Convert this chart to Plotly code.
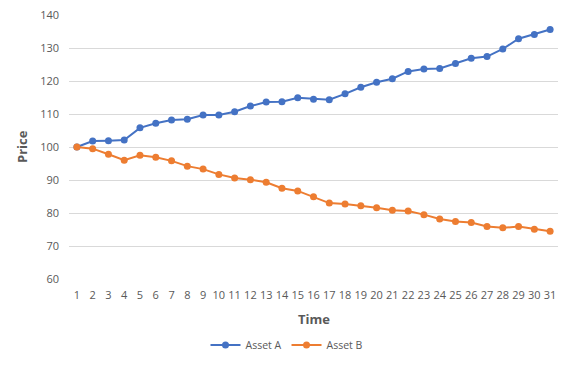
import plotly.graph_objects as go

time = list(range(1, 32))
asset_a = [100, 101.8, 101.9, 102.1, 105.8, 107.2, 108.2, 108.4, 109.7, 109.7,
           110.7, 112.4, 113.6, 113.7, 114.9, 114.5, 114.3, 116.1, 118.1, 119.6,
           120.7, 122.9, 123.6, 123.8, 125.3, 126.9, 127.4, 129.7, 132.8, 134.1, 135.6]
asset_b = [100, 99.5, 97.8, 96.0, 97.5, 96.9, 95.8, 94.2, 93.3, 91.7,
           90.6, 90.1, 89.3, 87.5, 86.7, 84.9, 83.0, 82.7, 82.2, 81.6,
           80.8, 80.6, 79.5, 78.2, 77.4, 77.1, 75.9, 75.5, 75.9, 75.1, 74.5]
y_ticks = [60, 70, 80, 90, 100, 110, 120, 130, 140]

# page body has an 8px margin; keep the figure small enough to avoid scrollbars
OFF = 8
W, H = 573 - 2 * OFF, 372 - 2 * OFF
L_page, T_page, R_page, B_page = 69, 15, 558, 279
L, T = L_page - OFF, T_page - OFF
R, B = (W + OFF) - R_page, (H + OFF) - B_page
pw, ph = R_page - L_page, B_page - T_page

font = "Open Sans, Liberation Sans, sans-serif"
grey = "#595959"

fig = go.Figure()
fig.add_trace(go.Scatter(x=time, y=asset_a, name="Asset A", mode="lines+markers",
                         line=dict(color="#4472C4", width=2),
                         marker=dict(color="#4472C4", size=7)))
fig.add_trace(go.Scatter(x=time, y=asset_b, name="Asset B", mode="lines+markers",
                         line=dict(color="#ED7D31", width=2),
                         marker=dict(color="#ED7D31", size=7)))

fig.update_layout(
    width=W, height=H,
    margin=dict(l=L, r=R, t=T, b=B, pad=0, autoexpand=False),
    paper_bgcolor="white", plot_bgcolor="white",
    font=dict(family=font, color=grey, size=11),
    showlegend=True,
    legend=dict(orientation="h", x=(287 - L_page) / pw, xanchor="center",
                y=-(345 - B_page) / ph, yanchor="middle",
                font=dict(size=10.5, color=grey), itemwidth=30,
                bgcolor="rgba(0,0,0,0)"),
    xaxis=dict(range=[0.5, 31.5], tickmode="array", tickvals=time,
               ticktext=[str(t) for t in time], showgrid=False, zeroline=False,
               showline=False, ticks="", ticklabelstandoff=8,
               ticklabeloverflow="allow",
               tickfont=dict(size=11, color=grey), fixedrange=True),
    yaxis=dict(range=[60, 140], tickmode="array", tickvals=y_ticks,
               showgrid=True, gridcolor="#d9d9d9", gridwidth=1, zeroline=False,
               showline=False, ticks="", ticklabelstandoff=9,
               ticklabeloverflow="allow",
               tickfont=dict(size=11, color=grey), fixedrange=True),
    annotations=[
        dict(text="<b>Time</b>", xref="paper", yref="paper", x=0.5,
             y=-(319 - B_page) / ph, xanchor="center", yanchor="middle",
             showarrow=False, font=dict(size=13, color=grey)),
        dict(text="<b>Price</b>", xref="paper", yref="paper", x=(22 - L_page) / pw,
             y=0.5, xanchor="center", yanchor="middle", textangle=-90,
             showarrow=False, font=dict(size=13, color=grey)),
    ],
)

fig.write_html("out.html")
